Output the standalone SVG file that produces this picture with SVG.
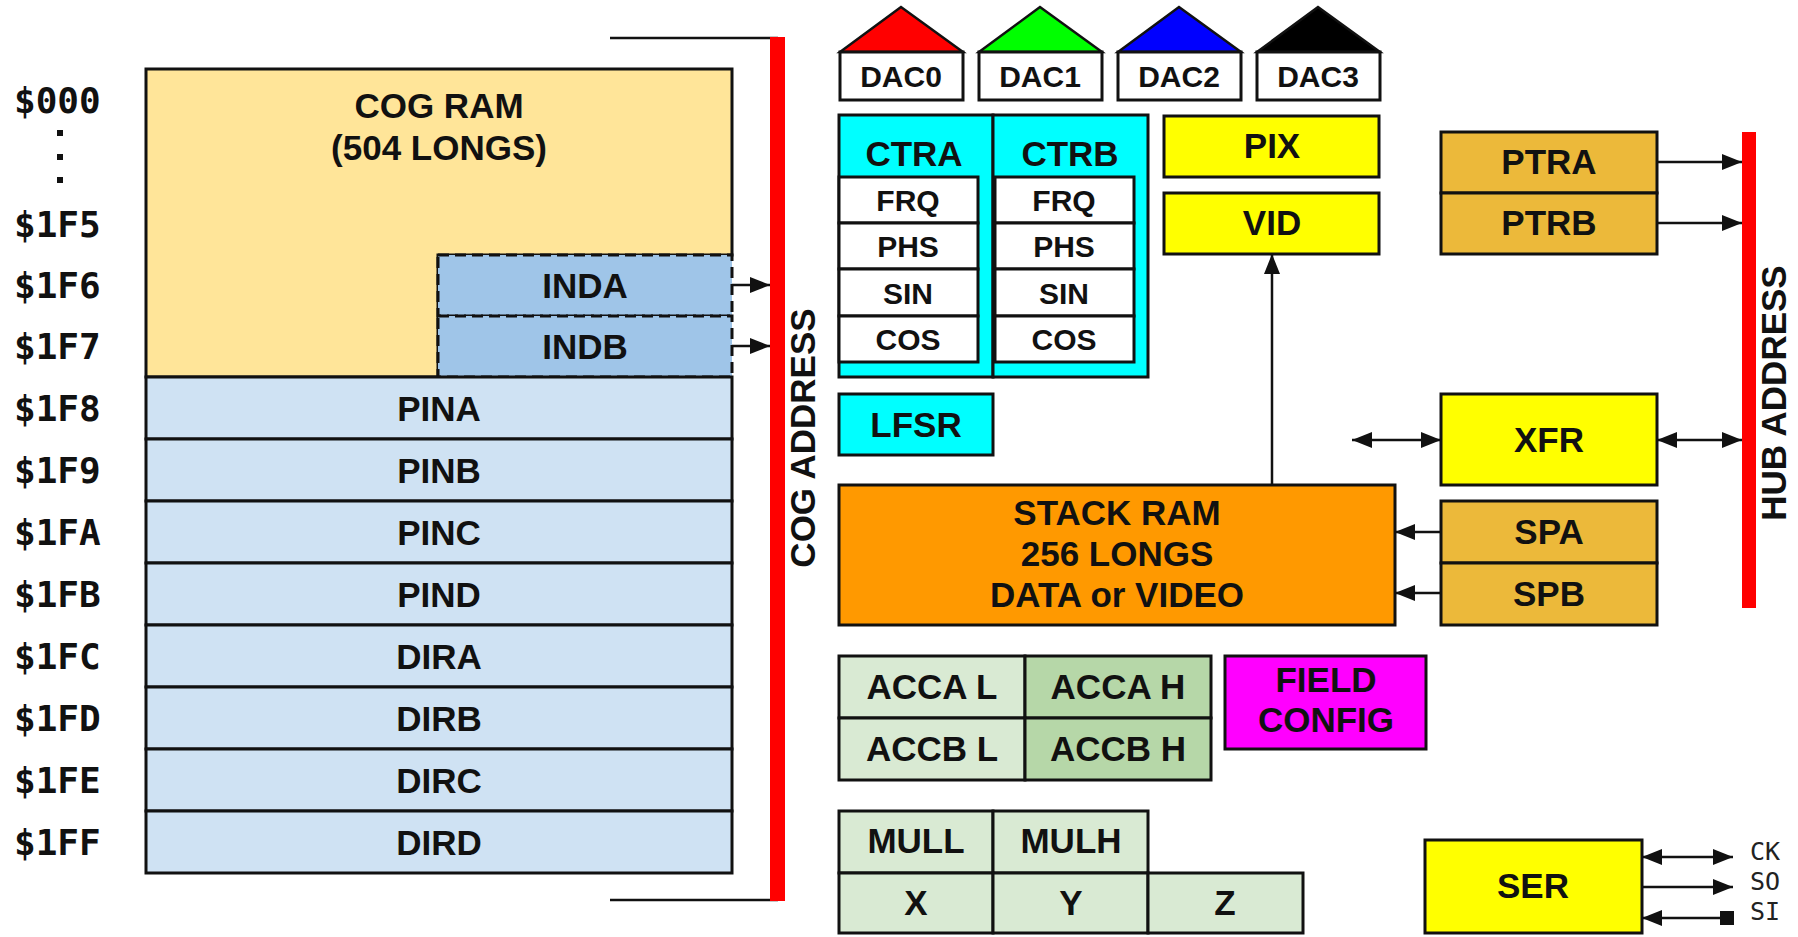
<svg xmlns="http://www.w3.org/2000/svg" width="1798" height="937" viewBox="0 0 1798 937">
  <defs>
    <style>
      .box { stroke: #111; stroke-width: 3; }
      .dash { stroke: #111; stroke-width: 3; stroke-dasharray: 11 6; }
      .t { font-family: "Liberation Sans", Arial, sans-serif; font-weight: bold; font-size: 35px; fill: #111; text-anchor: middle; }
      .sm { font-size: 30px; }
      .addr { font-family: "DejaVu Sans Mono", "Liberation Mono", monospace; font-weight: bold; font-size: 36px; fill: #111; }
      .pin { font-family: "DejaVu Sans Mono", "Liberation Mono", monospace; font-size: 25px; fill: #222; }
      .wire { stroke: #111; stroke-width: 2.5; fill: none; }
      .cog { fill: #ffe599; }
      .reg { fill: #cfe2f3; }
      .ind { fill: #9fc5e8; }
      .cyan { fill: #00ffff; }
      .white { fill: #ffffff; }
      .yellow { fill: #ffff00; }
      .gold { fill: #ecb93a; }
      .orange { fill: #ff9900; }
      .lgreen { fill: #d9ead3; }
      .mgreen { fill: #b6d7a8; }
      .magenta { fill: #ff00ff; }
      .bus { fill: #ff0000; }
    </style>
    <marker id="arrow" viewBox="0 0 20 16" refX="20" refY="8" markerWidth="20" markerHeight="16" markerUnits="userSpaceOnUse" orient="auto-start-reverse">
      <path d="M0,0 L20,8 L0,16 Z" fill="#111"/>
    </marker>
    <marker id="pad" viewBox="0 0 14 14" refX="7" refY="7" markerWidth="14" markerHeight="14" markerUnits="userSpaceOnUse" orient="auto">
      <rect x="0" y="0" width="14" height="14" fill="#111"/>
    </marker>
  </defs>

  <rect width="1798" height="937" fill="#ffffff"/>

  <!-- address column -->
  <g id="addresses">
    <text class="addr" x="14" y="113">$000</text>
    <rect x="57" y="130" width="6" height="6" fill="#111"/>
    <rect x="57" y="154" width="6" height="6" fill="#111"/>
    <rect x="57" y="177" width="6" height="6" fill="#111"/>
    <text class="addr" x="14" y="237">$1F5</text>
    <text class="addr" x="14" y="298">$1F6</text>
    <text class="addr" x="14" y="359">$1F7</text>
    <text class="addr" x="14" y="421">$1F8</text>
    <text class="addr" x="14" y="483">$1F9</text>
    <text class="addr" x="14" y="545">$1FA</text>
    <text class="addr" x="14" y="607">$1FB</text>
    <text class="addr" x="14" y="669">$1FC</text>
    <text class="addr" x="14" y="731">$1FD</text>
    <text class="addr" x="14" y="793">$1FE</text>
    <text class="addr" x="14" y="855">$1FF</text>
  </g>

  <!-- cog RAM and special registers -->
  <g id="cog-ram">
    <path class="cog box" d="M146,69 H732 V255 H438 V377 H146 Z"/>
    <text class="t" x="439" y="118">COG RAM</text>
    <text class="t" x="439" y="160">(504 LONGS)</text>
  </g>
  <g id="inda">
    <rect class="ind dash" x="438" y="255" width="294" height="61"/>
    <text class="t" x="585" y="298">INDA</text>
  </g>
  <g id="indb">
    <rect class="ind dash" x="438" y="316" width="294" height="61"/>
    <text class="t" x="585" y="359">INDB</text>
  </g>
  <g id="pina"><rect class="reg box" x="146" y="377" width="586" height="62"/><text class="t" x="439" y="421">PINA</text></g>
  <g id="pinb"><rect class="reg box" x="146" y="439" width="586" height="62"/><text class="t" x="439" y="483">PINB</text></g>
  <g id="pinc"><rect class="reg box" x="146" y="501" width="586" height="62"/><text class="t" x="439" y="545">PINC</text></g>
  <g id="pind"><rect class="reg box" x="146" y="563" width="586" height="62"/><text class="t" x="439" y="607">PIND</text></g>
  <g id="dira"><rect class="reg box" x="146" y="625" width="586" height="62"/><text class="t" x="439" y="669">DIRA</text></g>
  <g id="dirb"><rect class="reg box" x="146" y="687" width="586" height="62"/><text class="t" x="439" y="731">DIRB</text></g>
  <g id="dirc"><rect class="reg box" x="146" y="749" width="586" height="62"/><text class="t" x="439" y="793">DIRC</text></g>
  <g id="dird"><rect class="reg box" x="146" y="811" width="586" height="62"/><text class="t" x="439" y="855">DIRD</text></g>

  <!-- cog address bus -->
  <g id="cog-address">
    <path class="wire" d="M610,38 H778 M610,900 H778"/>
    <rect class="bus" x="770" y="37" width="15" height="864"/>
    <text class="t" transform="translate(815,438) rotate(-90)">COG ADDRESS</text>
  </g>

  <!-- DACs -->
  <g id="dac0">
    <polygon points="840,52 901,7 963,52" fill="#ff0000" stroke="#111" stroke-width="2.5"/>
    <rect class="white box" x="840" y="52" width="123" height="48"/>
    <text class="t sm" x="901" y="87">DAC0</text>
  </g>
  <g id="dac1">
    <polygon points="979,52 1040,7 1102,52" fill="#00ff00" stroke="#111" stroke-width="2.5"/>
    <rect class="white box" x="979" y="52" width="123" height="48"/>
    <text class="t sm" x="1040" y="87">DAC1</text>
  </g>
  <g id="dac2">
    <polygon points="1118,52 1179,7 1241,52" fill="#0000ff" stroke="#111" stroke-width="2.5"/>
    <rect class="white box" x="1118" y="52" width="123" height="48"/>
    <text class="t sm" x="1179" y="87">DAC2</text>
  </g>
  <g id="dac3">
    <polygon points="1257,52 1318,7 1380,52" fill="#000000" stroke="#111" stroke-width="2.5"/>
    <rect class="white box" x="1257" y="52" width="123" height="48"/>
    <text class="t sm" x="1318" y="87">DAC3</text>
  </g>

  <!-- counters -->
  <g id="ctra">
    <rect class="cyan box" x="839" y="115" width="154" height="262"/>
    <text class="t" x="914" y="166">CTRA</text>
    <rect class="white box" x="839" y="177" width="139" height="46"/>
    <rect class="white box" x="839" y="223" width="139" height="46"/>
    <rect class="white box" x="839" y="269" width="139" height="47"/>
    <rect class="white box" x="839" y="316" width="139" height="46"/>
    <text class="t sm" x="908" y="211">FRQ</text>
    <text class="t sm" x="908" y="257">PHS</text>
    <text class="t sm" x="908" y="304">SIN</text>
    <text class="t sm" x="908" y="350">COS</text>
  </g>
  <g id="ctrb">
    <rect class="cyan box" x="993" y="115" width="155" height="262"/>
    <text class="t" x="1070" y="166">CTRB</text>
    <rect class="white box" x="995" y="177" width="139" height="46"/>
    <rect class="white box" x="995" y="223" width="139" height="46"/>
    <rect class="white box" x="995" y="269" width="139" height="47"/>
    <rect class="white box" x="995" y="316" width="139" height="46"/>
    <text class="t sm" x="1064" y="211">FRQ</text>
    <text class="t sm" x="1064" y="257">PHS</text>
    <text class="t sm" x="1064" y="304">SIN</text>
    <text class="t sm" x="1064" y="350">COS</text>
  </g>
  <g id="lfsr">
    <rect class="cyan box" x="839" y="394" width="154" height="61"/>
    <text class="t" x="916" y="437">LFSR</text>
  </g>

  <!-- video -->
  <g id="pix"><rect class="yellow box" x="1164" y="116" width="215" height="61"/><text class="t" x="1272" y="158">PIX</text></g>
  <g id="vid"><rect class="yellow box" x="1164" y="193" width="215" height="61"/><text class="t" x="1272" y="235">VID</text></g>

  <!-- stack RAM -->
  <g id="stack-ram">
    <rect class="orange box" x="839" y="485" width="556" height="140"/>
    <text class="t" x="1117" y="525">STACK RAM</text>
    <text class="t" x="1117" y="566">256 LONGS</text>
    <text class="t" x="1117" y="607">DATA or VIDEO</text>
  </g>

  <!-- hub pointers and transfer -->
  <g id="ptra"><rect class="gold box" x="1441" y="132" width="216" height="61"/><text class="t" x="1549" y="174">PTRA</text></g>
  <g id="ptrb"><rect class="gold box" x="1441" y="193" width="216" height="61"/><text class="t" x="1549" y="235">PTRB</text></g>
  <g id="xfr"><rect class="yellow box" x="1441" y="394" width="216" height="91"/><text class="t" x="1549" y="452">XFR</text></g>
  <g id="spa"><rect class="gold box" x="1441" y="501" width="216" height="62"/><text class="t" x="1549" y="544">SPA</text></g>
  <g id="spb"><rect class="gold box" x="1441" y="563" width="216" height="62"/><text class="t" x="1549" y="606">SPB</text></g>

  <!-- hub address bus -->
  <g id="hub-address">
    <rect class="bus" x="1742" y="132" width="14" height="476"/>
    <text class="t" transform="translate(1786,393) rotate(-90)">HUB ADDRESS</text>
  </g>

  <!-- accumulators -->
  <g id="acc">
    <rect class="lgreen box" x="839" y="656" width="186" height="62"/>
    <rect class="mgreen box" x="1025" y="656" width="186" height="62"/>
    <rect class="lgreen box" x="839" y="718" width="186" height="62"/>
    <rect class="mgreen box" x="1025" y="718" width="186" height="62"/>
    <text class="t" x="932" y="699">ACCA L</text>
    <text class="t" x="1118" y="699">ACCA H</text>
    <text class="t" x="932" y="761">ACCB L</text>
    <text class="t" x="1118" y="761">ACCB H</text>
  </g>
  <g id="field-config">
    <rect class="magenta box" x="1225" y="656" width="201" height="93"/>
    <text class="t" x="1326" y="692">FIELD</text>
    <text class="t" x="1326" y="732">CONFIG</text>
  </g>

  <!-- multiplier -->
  <g id="mul">
    <rect class="lgreen box" x="839" y="811" width="154" height="62"/>
    <rect class="lgreen box" x="993" y="811" width="155" height="62"/>
    <rect class="lgreen box" x="839" y="873" width="154" height="60"/>
    <rect class="lgreen box" x="993" y="873" width="155" height="60"/>
    <rect class="lgreen box" x="1148" y="873" width="155" height="60"/>
    <text class="t" x="916" y="853">MULL</text>
    <text class="t" x="1071" y="853">MULH</text>
    <text class="t" x="916" y="915">X</text>
    <text class="t" x="1071" y="915">Y</text>
    <text class="t" x="1225" y="915">Z</text>
  </g>

  <!-- serial port -->
  <g id="ser">
    <rect class="yellow box" x="1425" y="840" width="217" height="93"/>
    <text class="t" x="1533" y="898">SER</text>
    <text class="pin" x="1750" y="860">CK</text>
    <text class="pin" x="1750" y="890">SO</text>
    <text class="pin" x="1750" y="920">SI</text>
  </g>

  <!-- connectors -->
  <g id="connectors">
    <path class="wire" d="M732,285 H770" marker-end="url(#arrow)"/>
    <path class="wire" d="M732,346 H770" marker-end="url(#arrow)"/>
    <path class="wire" d="M1272,485 V254" marker-end="url(#arrow)"/>
    <path class="wire" d="M1657,162 H1742" marker-end="url(#arrow)"/>
    <path class="wire" d="M1657,223 H1742" marker-end="url(#arrow)"/>
    <path class="wire" d="M1352,440 H1441" marker-start="url(#arrow)" marker-end="url(#arrow)"/>
    <path class="wire" d="M1657,440 H1742" marker-start="url(#arrow)" marker-end="url(#arrow)"/>
    <path class="wire" d="M1441,532 H1395" marker-end="url(#arrow)"/>
    <path class="wire" d="M1441,593 H1395" marker-end="url(#arrow)"/>
    <path class="wire" d="M1642,857 H1733" marker-start="url(#arrow)" marker-end="url(#arrow)"/>
    <path class="wire" d="M1642,887 H1733" marker-end="url(#arrow)"/>
    <path class="wire" d="M1727,918 H1642" marker-start="url(#pad)" marker-end="url(#arrow)"/>
  </g>
</svg>
